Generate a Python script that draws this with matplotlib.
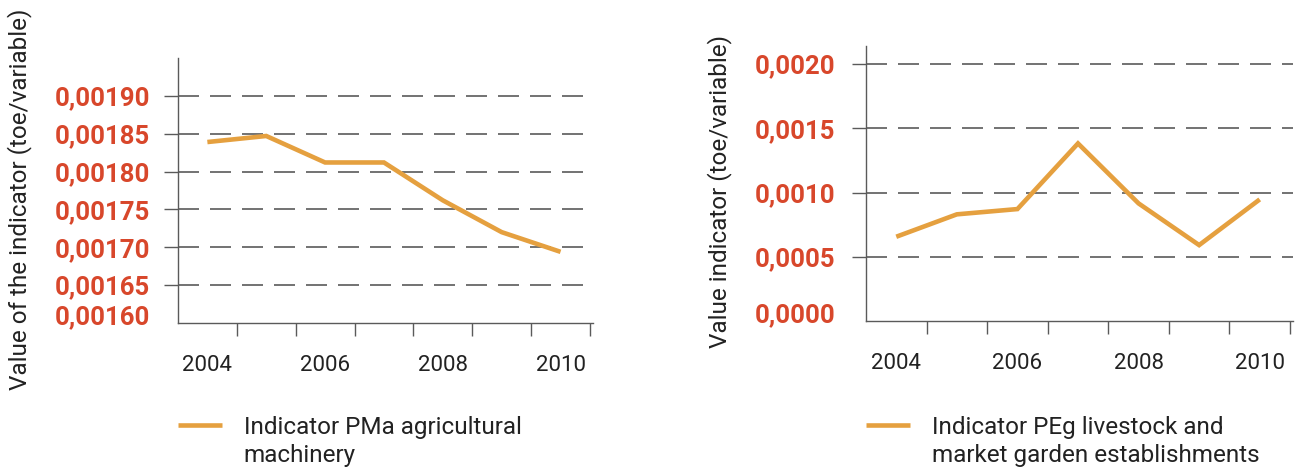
import matplotlib.pyplot as plt
from matplotlib.ticker import FixedLocator, NullFormatter
from matplotlib.transforms import ScaledTranslation

plt.rcParams['font.family'] = ['Roboto', 'DejaVu Sans']

# Data
years = [2004, 2005, 2006, 2007, 2008, 2009, 2010]
pma_values = [0.001839, 0.001847, 0.001812, 0.001812, 0.001762, 0.001720, 0.001694]
peg_values = [0.000658, 0.000832, 0.000873, 0.001383, 0.000917, 0.000593, 0.000948]

pma_ticks = [0.00160, 0.00165, 0.00170, 0.00175, 0.00180, 0.00185, 0.00190]
pma_labels = ['0,00160', '0,00165', '0,00170', '0,00175', '0,00180', '0,00185', '0,00190']
peg_ticks = [0.0000, 0.0005, 0.0010, 0.0015, 0.0020]
peg_labels = ['0,0000', '0,0005', '0,0010', '0,0015', '0,0020']
year_labels = [2004, 2006, 2008, 2010]

line_color = '#E5A03F'
label_red = '#D8472B'
axis_gray = '#5a5a5a'
text_dark = '#222222'

fig = plt.figure(figsize=(12.96, 4.68), dpi=100)
ax1 = fig.add_axes([0.1373, 0.3098, 0.3202, 0.5663])
ax2 = fig.add_axes([0.6682, 0.3132, 0.3295, 0.5885])


def style_axis(ax, values, ticks, labels, ylim, ylabel, legend_text, ypad, label_x, label_y, leg_x):
    ax.plot(years, values, color=line_color, lw=3.3, solid_capstyle='butt',
            solid_joinstyle='miter', label=legend_text)
    ax.set_xlim(2003.5, 2010.55)
    ax.set_ylim(*ylim)

    ax.spines['top'].set_visible(False)
    ax.spines['right'].set_visible(False)
    for s in ['left', 'bottom']:
        ax.spines[s].set_color(axis_gray)
        ax.spines[s].set_linewidth(1.0)

    # tick marks between years, year labels at the years
    ax.xaxis.set_major_locator(FixedLocator([y + 0.5 for y in years]))
    ax.xaxis.set_major_formatter(NullFormatter())
    ax.xaxis.set_minor_locator(FixedLocator(year_labels))
    ax.set_xticklabels([str(y) for y in year_labels], minor=True)
    ax.tick_params(axis='x', which='major', length=9.5, width=1.0, color=axis_gray, direction='out')
    ax.tick_params(axis='x', which='minor', length=0, pad=23, labelsize=16, labelcolor=text_dark)

    ax.set_yticks(ticks)
    ax.set_yticklabels(labels)
    ax.tick_params(axis='y', length=10, width=1.0, color=axis_gray, pad=ypad,
                   labelsize=18.5, labelcolor=label_red)
    for lab in ax.get_yticklabels():
        lab.set_fontweight('bold')
    # bottom label sits a bit above the axis line and has no tick
    first = ax.get_yticklabels()[0]
    first.set_transform(first.get_transform() + ScaledTranslation(0, 6 / 72, fig.dpi_scale_trans))
    ax.yaxis.get_major_ticks()[0].tick1line.set_visible(False)

    for t in ticks[1:]:
        ax.axhline(t, color=axis_gray, lw=1.2, linestyle=(0, (12.6, 6.6)), zorder=0)

    ax.set_ylabel(ylabel, fontsize=17.5, color=text_dark)
    ax.yaxis.set_label_coords(label_x, label_y)

    leg = ax.legend(loc='upper left', bbox_to_anchor=(leg_x, 0.111), bbox_transform=fig.transFigure,
                    frameon=False, fontsize=17.5, handlelength=1.8, handletextpad=0.9,
                    labelcolor=text_dark, borderpad=0, borderaxespad=0)
    leg.get_texts()[0].set_linespacing(1.3)
    # keep the legend line next to the first line of text
    for col in leg._legend_handle_box.get_children():
        for row in col.get_children():
            row.align = 'top'


style_axis(ax1, pma_values, pma_ticks, pma_labels, (0.0016, 0.00195),
           'Value of the indicator (toe/variable)',
           'Indicator PMa agricultural\nmachinery', 10, -0.352, 0.468, 0.1373)
style_axis(ax2, peg_values, peg_ticks, peg_labels, (0.0, 0.00214),
           'Value indicator (toe/variable)',
           'Indicator PEg livestock and\nmarket garden establishments', 12, -0.314, 0.47, 0.6682)

fig.savefig('out.png', dpi=100)
